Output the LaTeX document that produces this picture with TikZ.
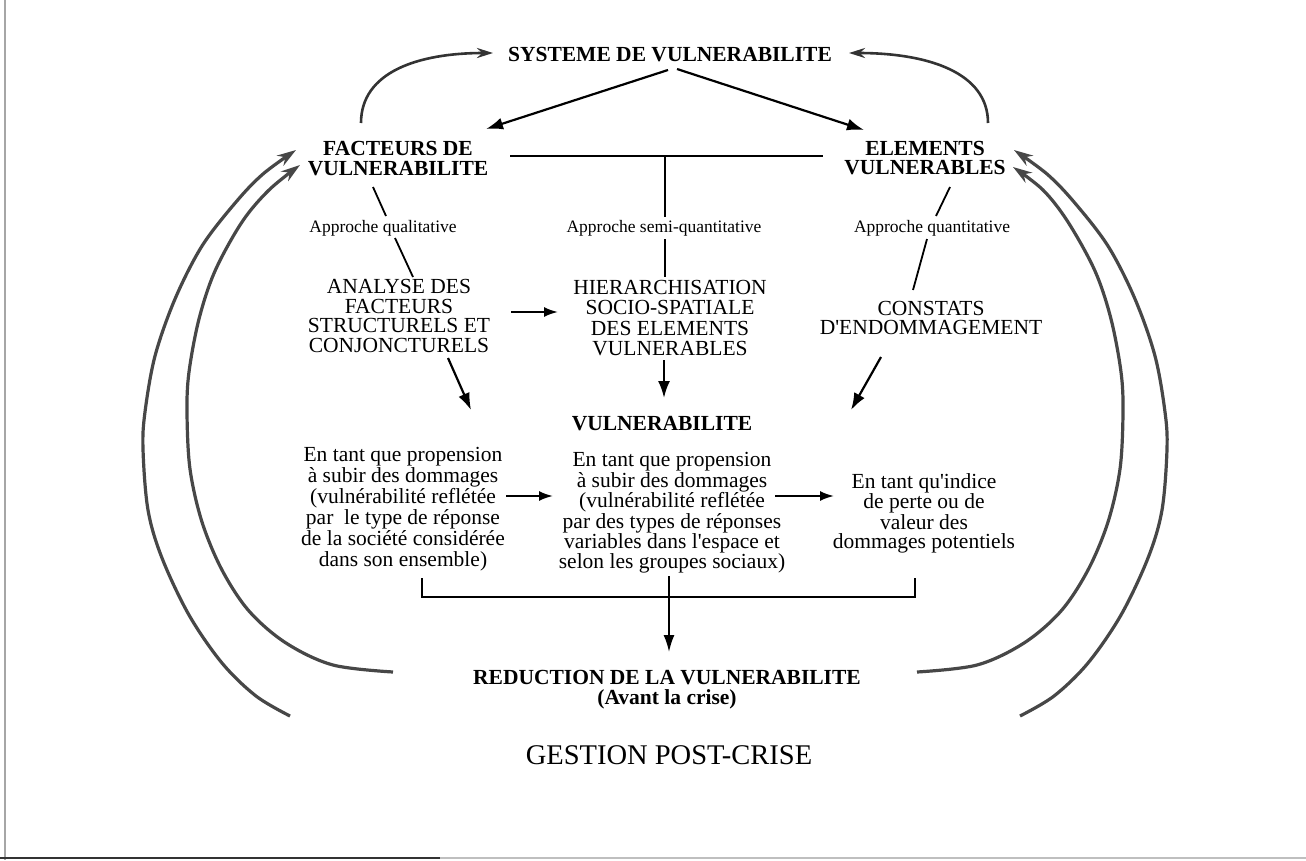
\documentclass[tikz,border=0pt]{standalone}
\usepackage{fontspec}
\setmainfont{Liberation Serif}
\usetikzlibrary{arrows.meta,calc}
\newcommand{\sq}{\textquotesingle}
\begin{document}
\begin{tikzpicture}[x=1pt,y=-1pt,
  bt/.style={font=\bfseries\fontsize{21.5}{19.5}\selectfont, align=center, inner sep=0pt},
  rt/.style={font=\fontsize{21.5}{19.5}\selectfont, align=center, inner sep=0pt},
  st/.style={font=\fontsize{17.5}{20}\selectfont, inner sep=0pt},
  ln/.style={line width=1.8pt},
  ar/.style={line width=2.2pt, -{Latex[length=17pt,width=12pt]}},
  sar/.style={line width=2pt, -{Latex[length=14pt,width=10pt]}},
  toparc/.style={line width=2.6pt, black!80, -{Stealth[length=16pt,width=10pt]}},
  bigarc/.style={line width=3.2pt, black!72, -{Stealth[length=19pt,width=12pt]}},
]
\fill[white] (0,0) rectangle (1306,860);
\useasboundingbox (0,0) rectangle (1306,860);
% scan border
\draw[black!35, line width=1.5pt] (5,0) -- (5,860);
\draw[black!80, line width=2pt] (0,858) -- (440,858);
\draw[black!25, line width=1.5pt] (440,858) -- (1306,858);

% nodes
\node[bt] (sys) at (670,55) {SYSTEME DE VULNERABILITE};
\node[bt] (fac) at (398,158.5) {FACTEURS DE\\VULNERABILITE};
\node[bt] (ele) at (925,158) {ELEMENTS\\VULNERABLES};
\node[st] (appq) at (383,228) {Approche qualitative};
\node[st] (apps) at (664,228) {Approche semi-quantitative};
\node[st] (appqt) at (932,228) {Approche quantitative};
\node[rt] (ana) at (399,316) {ANALYSE DES\\FACTEURS\\STRUCTURELS ET\\CONJONCTURELS};
\node[rt, font=\fontsize{21.5}{20.3}\selectfont] (hier) at (670,318) {HIERARCHISATION\\SOCIO-SPATIALE\\DES ELEMENTS\\VULNERABLES};
\node[rt, font=\fontsize{21.5}{19}\selectfont] (const) at (931,317.5) {CONSTATS\\D\sq ENDOMMAGEMENT};
\node[bt] (vul) at (662,424) {VULNERABILITE};
\node[rt, font=\fontsize{21.5}{21}\selectfont] (bl) at (403,509) {En tant que propension\\à subir des dommages\\(vulnérabilité reflétée\\par~ le type de réponse\\de la société considérée\\dans son ensemble)};
\node[rt, font=\fontsize{21.5}{20.4}\selectfont] (bm) at (672,513) {En tant que propension\\à subir des dommages\\(vulnérabilité reflétée\\par des types de réponses\\variables dans l\sq espace et\\selon les groupes sociaux)};
\node[rt, font=\fontsize{21.5}{19}\selectfont] (br) at (924,513) {En tant qu\sq indice\\de perte ou de\\valeur des\\dommages potentiels};
\node[bt, font=\bfseries\fontsize{21.5}{20}\selectfont] (red) at (667,690) {REDUCTION DE LA VULNERABILITE\\(Avant la crise)};
\node[rt, font=\fontsize{28.5}{30}\selectfont] (gest) at (669,755) {GESTION POST-CRISE};

% coordinates for connector ends
\coordinate (sysL) at (668,70);
\coordinate (sysR) at (677,69);
\coordinate (facT) at (486,129);
\coordinate (eleT) at (864,130);
\coordinate (hl) at (510,156);
\coordinate (hr) at (823,156);
\coordinate (hm) at (665,156);

% top arrows
\draw[ar] (sysL) -- (facT);
\draw[ar] (sysR) -- (eleT);
\draw[toparc] (361,123) .. controls (361,72) and (418,53) .. (493,53);
\draw[toparc] (988,123) .. controls (988,72) and (927,53) .. (849,53);

% horizontal tie and approach lines
\draw[ln] (hl) -- (hr);
\draw[ln] (hm) -- (665,217);
\draw[ln] (665,239) -- (665,277);
\draw[ln] (373,187) -- (386,216);
\draw[ln] (395,238) -- (413,277);
\draw[ln] (950,187) -- (936,216);
\draw[ln] (927,239) -- (913,290);

% arrows to vulnerabilite
\draw[sar] (511,312) -- (558,312);
\draw[ar] (448,358) -- (471,410);
\draw[ar] (664,360) -- (664,398);
\draw[ar] (881,357) -- (851,410);

% arrows between blocks
\draw[sar] (506,496) -- (553,496);
\draw[sar] (775,496) -- (834,496);

% bracket
\draw[ln] (422,578) -- (422,597) -- (915,597) -- (915,578);
\draw[line width=1.8pt, -{Latex[length=17pt,width=11pt]}] (669,576) -- (669,652);

% big arcs
\draw[bigarc] plot[smooth, tension=0.55] coordinates {(290,716) (256,696) (222,663) (189,615) (162,558) (148,510) (143,449) (145,412) (155,356) (175,299) (202,246) (236,202) (263,174) (296,150)};
\draw[bigarc] plot[smooth, tension=0.55] coordinates {(393,672) (333,665) (286,643) (249,611) (222,570) (202,522) (190,469) (187,412) (189,372) (199,319) (215,271) (242,222) (269,190) (300,165)};
\draw[bigarc] plot[smooth, tension=0.55] coordinates {(1020,716) (1054,696) (1088,663) (1121,615) (1148,558) (1162,510) (1167,449) (1165,412) (1155,356) (1135,299) (1108,246) (1074,202) (1047,174) (1014,150)};
\draw[bigarc] plot[smooth, tension=0.55] coordinates {(917,672) (977,665) (1024,643) (1061,611) (1088,570) (1108,522) (1120,469) (1123,412) (1121,372) (1111,319) (1095,271) (1068,222) (1043,190) (1013,167)};
\end{tikzpicture}
\end{document}
